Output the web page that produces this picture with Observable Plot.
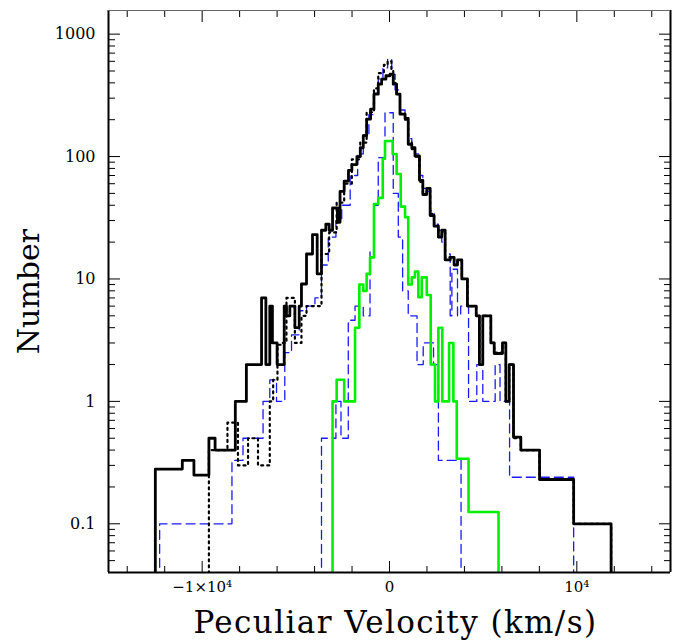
<!DOCTYPE html>
<html><head><meta charset="utf-8">
<script src="https://cdn.jsdelivr.net/npm/d3@7"></script>
<script src="https://cdn.jsdelivr.net/npm/@observablehq/plot@0.6"></script>
<style>body{margin:0;background:#fff}</style>
</head><body><div id="chart"></div>
<script>
const xDomain = [-15000, 15000];
const yDomain = [0.04, 1560];
const yMajorTicks = [0.1, 1, 10, 100, 1000];
const yMinorTicks = [0.05,0.06,0.07,0.08,0.09,0.2,0.3,0.4,0.5,0.6,0.7,0.8,0.9,2,3,4,5,6,7,8,9,20,30,40,50,60,70,80,90,200,300,400,500,600,700,800,900];
const xMajorTicks = [-10000, 0, 10000];
const xTickLabels = ["\u22121\u00d710\u2074", "0", "10\u2074"];
const xMinorTicks = [-14000,-12000,-8000,-6000,-4000,-2000,2000,4000,6000,8000,12000,14000];
const xTitle = "Peculiar Velocity (km/s)";
const yTitle = "Number";

// black solid
const allEdges = [-12500,-11060,-10440,-9640,-9310,-8230,-7640,-6830,-6600,-6390,-6250,-6000,-5620,-5500,-5320,-5050,-4820,-4700,-4430,-4110,-3860,-3630,-3400,-3220,-3040,-2780,-2640,-2420,-2190,-2010,-1740,-1560,-1400,-1220,-1010,-830,-600,-420,-190,30,200,380,560,830,1000,1190,1360,1600,1780,1990,2170,2380,2610,2790,2970,3240,3450,3630,3860,4160,4630,4800,4980,5410,5590,6030,6210,6390,6620,7010,8010,9830,11830];
const allCounts = [0.28,0.33,0.25,0.5,0.4,1.0,2.0,7.0,2.0,6.0,3.0,2.0,6.0,5.0,6.0,4.0,6.0,9.1,16,23,11,25,28,25,38,29,52,63,77,86,100,118,148,202,244,323,390,429,457,471,390,323,222,205,126,118,101,64,49,55,33,27,22,25,14.3,15,13,14.3,10,6,5,2,5,3,2.46,3,1,2,0.51,0.4,0.23,0.1];

// black dotted
const dotEdges = [-9640,-8650,-8090,-7550,-7020,-6390,-6210,-5980,-5770,-5500,-5050,-4700,-4430,-3630,-3220,-2820,-2420,-2010,-1560,-1220,-830,-600,-300,-100,100,200,380,560,830,1000,1190,1360,1600,1780,1990,2170,2380,2610,2790,2970,3240,3450,3630,3860,4160,4630,4800,4980,5410,5590,6030,6210,6390,6620,7010,8010,9830,11830];
const dotCounts = [0.4,0.67,0.3,0.5,0.3,1.0,1.5,2.9,3.0,7.0,3.0,5.0,6.0,16,24,42,60,95,130,230,360,480,560,600,500,400,320,225,200,130,115,100,62,50,53,34,27,22,24,15,15,13,14,10,6,5,2,5,3,2.5,3,1,2,0.5,0.4,0.23,0.1];

// blue dashed (broad)
const blueEdges = [-12270,-8410,-7820,-6750,-6390,-6030,-5590,-5230,-4820,-4430,-3980,-3630,-3270,-2860,-2550,-2100,-1700,-1400,-1100,-830,-600,-350,-100,120,300,560,830,1000,1190,1360,1600,1780,1990,2170,2380,2610,2790,2970,3240,3330,3630,3800,4220,4660,4980,5640,5900,6410,9830];
const blueCounts = [0.1,0.33,0.5,1.0,1.5,1.0,2.5,3.5,5.5,6,7,13,22,30,40,70,105,150,220,330,430,530,625,470,350,240,200,140,120,105,70,55,52,36,28,25,20,16,5,12,5,6,1.0,2.0,1.0,2.0,1.0,0.24];

// blue dashed (narrow)
const blue2Edges = [-3630,-2860,-2590,-2200,-1840,-1400,-1040,-830,-600,-240,200,470,700,1000,1470,1800,2350,2610,3820];
const blue2Counts = [0.5,1.0,0.5,4.6,6,5,17,40,98,228,50,22,8,5,2.0,3.0,2.0,0.33];

// green solid
const greenEdges = [-3040,-2820,-2420,-1840,-1610,-1400,-1220,-1040,-830,-600,-360,-240,170,380,600,830,1000,1190,1360,1540,1720,1990,2200,2430,2610,2820,3180,3410,3590,4220,5820];
const greenCounts = [1.0,1.5,1.0,4.0,9.0,8.0,11,15,41,46,96,134,105,72,39,32,9,10.3,11.5,7.1,10.3,7.4,2.0,1.0,4.0,1.0,3.0,1.0,0.34,0.125];

const floorValue = 0.02;
function stepPoints(edges, counts) {
  const pts = [{x: edges[0], y: floorValue}];
  counts.forEach((c, i) => pts.push({x: edges[i], y: c}));
  pts.push({x: edges[edges.length - 1], y: counts[counts.length - 1]});
  pts.push({x: edges[edges.length - 1], y: floorValue});
  return pts;
}
const serif = "'DejaVu Serif', serif";

const chart = Plot.plot({
  width: 683, height: 644,
  marginLeft: 108, marginRight: 13, marginTop: 10, marginBottom: 72,
  x: {domain: xDomain},
  y: {type: "log", domain: yDomain},
  style: {fontFamily: serif, background: "white", color: "black"},
  marks: [
    Plot.line(stepPoints(blueEdges, blueCounts), {x: "x", y: "y", curve: "step-after", stroke: "#1a1aff", strokeWidth: 1.3, strokeDasharray: "9,5", clip: true}),
    Plot.line(stepPoints(blue2Edges, blue2Counts), {x: "x", y: "y", curve: "step-after", stroke: "#1a1aff", strokeWidth: 1.3, strokeDasharray: "9,5", clip: true}),
    Plot.line(stepPoints(dotEdges, dotCounts), {x: "x", y: "y", curve: "step-after", stroke: "black", strokeWidth: 2.2, strokeDasharray: "2,4", clip: true}),
    Plot.line(stepPoints(greenEdges, greenCounts), {x: "x", y: "y", curve: "step-after", stroke: "#00f000", strokeWidth: 2.6, clip: true}),
    Plot.line(stepPoints(allEdges, allCounts), {x: "x", y: "y", curve: "step-after", stroke: "black", strokeWidth: 2.8, clip: true}),
    // frame
    Plot.ruleX(xDomain, {stroke: "black", strokeWidth: 2}),
    Plot.ruleY([yDomain[0]], {stroke: "black", strokeWidth: 2}),
    Plot.ruleY([yDomain[1]], {stroke: "#666", strokeWidth: 1}),
    // inward ticks
    Plot.axisY({anchor: "left", ticks: yMajorTicks, tickSize: 12, dx: 12, tickFormat: () => "", label: null}),
    Plot.axisY({anchor: "left", ticks: yMinorTicks, tickSize: 7, dx: 7, tickFormat: () => "", label: null}),
    Plot.axisY({anchor: "right", ticks: yMajorTicks, tickSize: 12, dx: -12, tickFormat: () => "", label: null}),
    Plot.axisY({anchor: "right", ticks: yMinorTicks, tickSize: 7, dx: -7, tickFormat: () => "", label: null}),
    Plot.axisX({anchor: "bottom", ticks: xMajorTicks, tickSize: 11, dy: -11, tickFormat: () => "", label: null}),
    Plot.axisX({anchor: "bottom", ticks: xMinorTicks, tickSize: 6, dy: -6, tickFormat: () => "", label: null}),
    Plot.axisX({anchor: "top", ticks: xMajorTicks, tickSize: 11, dy: 11, tickFormat: () => "", label: null}),
    Plot.axisX({anchor: "top", ticks: xMinorTicks, tickSize: 6, dy: 6, tickFormat: () => "", label: null}),
    // labels
    Plot.axisY({anchor: "left", ticks: yMajorTicks, tickSize: 0, tickPadding: 13, tickFormat: d => String(d), fontSize: 16, label: null}),
    Plot.axisX({anchor: "bottom", ticks: xMajorTicks, tickSize: 0, tickPadding: 9, tickFormat: d => xTickLabels[xMajorTicks.indexOf(d)], fontSize: 15, label: null}),
    Plot.text([xTitle], {frameAnchor: "bottom", dy: 51, dx: 6, text: d => d, fontSize: 31, lineAnchor: "middle", className: "xtitle"}),
    Plot.text([yTitle], {frameAnchor: "left", dx: -79, rotate: -90, text: d => d, fontSize: 30, lineAnchor: "middle", textAnchor: "middle"})
  ]
});
chart.querySelectorAll(".xtitle text").forEach(t => t.style.letterSpacing = "1.4px");
document.getElementById("chart").appendChild(chart);
</script>
</body></html>
